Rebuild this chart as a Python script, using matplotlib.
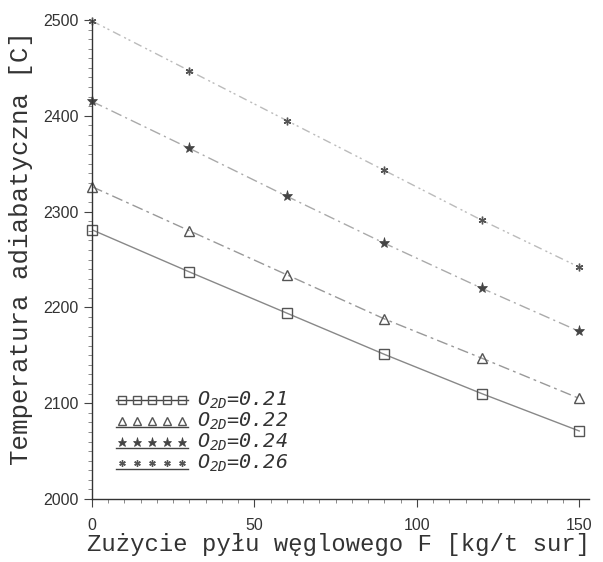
import matplotlib
matplotlib.use("Agg")
import matplotlib.pyplot as plt
from matplotlib.ticker import MultipleLocator

plt.rcParams['mathtext.fontset'] = 'custom'
plt.rcParams['mathtext.it'] = 'DejaVu Sans Mono:oblique'
plt.rcParams['mathtext.rm'] = 'DejaVu Sans Mono:oblique'

x = [0, 30, 60, 90, 120, 150]
o21 = [2281, 2237, 2194, 2151, 2110, 2071]
o22 = [2326, 2280, 2234, 2188, 2147, 2105]
o24 = [2415, 2366, 2316, 2267, 2220, 2175]
o26 = [2499, 2447, 2395, 2343, 2291, 2242]
labels = ["0.21", "0.22", "0.24", "0.26"]
series = [o21, o22, o24, o26]

styles = [
    dict(marker='s', ls='-', ms=7, mfc='none', color='#555555', lc='#888888', dash=None, mew=1.0, loff=0),
    dict(marker='^', ls='--', ms=7, mfc='none', color='#555555', lc='#999999', dash=(8, 3, 2, 3), mew=1.0, loff=6),
    dict(marker='*', ls='--', ms=8, mfc='#444444', color='#444444', lc='#aaaaaa', dash=(8, 3, 1.5, 3), mew=0.5, loff=6),
    dict(marker=(6, 2, 0), ls='--', ms=5.5, mfc='#555555', color='#555555', lc='#bbbbbb', dash=(6, 3, 1.5, 2, 1.5, 3), mew=1.0, loff=6),
]

fig = plt.figure(figsize=(6.03, 5.62), dpi=100)
ax = fig.add_axes([92/603, 1-499/562, (589-92)/603, (499-20)/562])

for s, st in zip(series, styles):
    line, = ax.plot(x, s, color=st['lc'], lw=1.0, ls=st['ls'])
    if st['dash']:
        line.set_dashes(st['dash'])
    ax.plot(x, s, ls='none', marker=st['marker'], ms=st['ms'], mfc=st['mfc'],
            mec=st['color'], mew=st['mew'], clip_on=False)

ax.set_xlim(0, 153)
ax.set_ylim(2000, 2500)
ax.spines['top'].set_visible(False)
ax.spines['right'].set_visible(False)
for sp in ['left', 'bottom']:
    ax.spines[sp].set_color('#333333')
    ax.spines[sp].set_linewidth(1.0)

ax.xaxis.set_major_locator(MultipleLocator(50))
ax.xaxis.set_minor_locator(MultipleLocator(5))
ax.yaxis.set_major_locator(MultipleLocator(100))
ax.yaxis.set_minor_locator(MultipleLocator(10))
ax.tick_params(which='major', length=6, color='#444444', labelsize=11.5, labelcolor='#333333')
ax.tick_params(axis='x', which='major', pad=8)
ax.tick_params(which='minor', length=3, color='#777777')
for lab in ax.get_xticklabels() + ax.get_yticklabels():
    lab.set_fontfamily('Liberation Sans')

ax.set_xlabel("Zużycie pyłu węglowego F [kg/t sur]", fontfamily='Liberation Mono',
              fontsize=17.2, color='#333333')
ax.xaxis.set_label_coords((339 - 92) / (589 - 92), -(545 - 499) / (499 - 20))
ax.set_ylabel("Temperatura adiabatyczna [C]", fontfamily='Liberation Mono',
              fontsize=18.5, color='#333333')
ax.yaxis.set_label_coords(-(92 - 21) / (589 - 92), (499 - 248) / (499 - 20))
ax.yaxis.label.set_va('center')
ax.xaxis.label.set_va('center')

# manual legend
fig_w, fig_h = 603, 562
rows_y = [400, 421, 442, 463]
mk_x = [122, 137, 152, 167, 182]
for ry, lab, st in zip(rows_y, labels, styles):
    fy = 1 - ry / fig_h
    ly = fy - st['loff'] / fig_h
    fig.lines.append(plt.Line2D([116/fig_w, 188/fig_w], [ly, ly],
                                transform=fig.transFigure, color='#444444', lw=1.0))
    fig.lines.append(plt.Line2D([m/fig_w for m in mk_x], [fy]*5, transform=fig.transFigure,
                                ls='none', marker=st['marker'], ms=st['ms']*0.85, mfc=st['mfc'],
                                mec=st['color'], mew=st['mew']))
    fig.text(197/fig_w, fy, r"$O_{2D}$=" + lab, fontfamily='DejaVu Sans Mono', fontstyle='oblique',
             fontsize=14.5, color='#333333', va='center', ha='left')

fig.savefig("out.png", dpi=100, facecolor='white')
